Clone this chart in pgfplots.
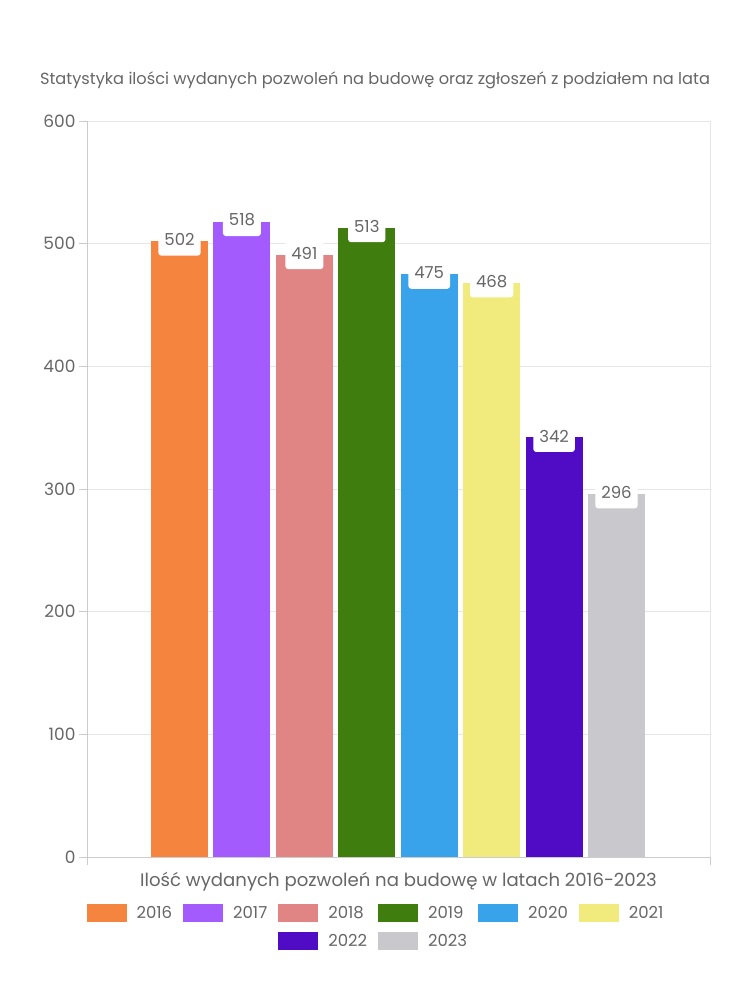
\documentclass[border=0pt]{standalone}
\usepackage{pgfplots}
\pgfplotsset{compat=1.18}
\usepackage{fontspec}
\setmainfont{Poppins}
\definecolor{c2016}{HTML}{F5843F}
\definecolor{c2017}{HTML}{A35BFD}
\definecolor{c2018}{HTML}{E08584}
\definecolor{c2019}{HTML}{3E7D0E}
\definecolor{c2020}{HTML}{38A3EA}
\definecolor{c2021}{HTML}{F0EB7C}
\definecolor{c2022}{HTML}{500BC5}
\definecolor{c2023}{HTML}{C9C9CD}
\definecolor{txt}{HTML}{666666}
\definecolor{gridc}{HTML}{E6E6E6}
\definecolor{axisc}{HTML}{CCCCCC}
\pgfplotsset{
  legsw/.style={legend image code/.code={\fill[#1] (0pt,-9pt) rectangle (40pt,9pt);}},
  mybar/.style={ybar, bar width=57pt, bar shift=0pt, fill=#1, draw=none, legsw=#1,
    nodes near coords, nodes near coords align={center},
    every node near coord/.append style={fill=white, rounded corners=3pt, text=txt,
      font=\fontsize{16.5}{16.5}\selectfont, inner xsep=6pt, inner ysep=0pt, minimum height=32pt, anchor=center, yshift=1.5pt}},
}
\begin{document}
\begin{tikzpicture}[x=1pt,y=1pt]
\useasboundingbox (0pt,0pt) rectangle (750pt,1000pt);
\node[font=\fontsize{16.2}{18}\selectfont, text=txt, anchor=base] at (375pt,915pt) {Statystyka ilości wydanych pozwoleń na budowę oraz zgłoszeń z podziałem na lata};
\begin{axis}[at={(87pt,143pt)}, anchor=south west, scale only axis, width=623pt, height=736pt,
  xmin=-0.482, xmax=9.498, ymin=0, ymax=600,
  ytick={0,100,...,600}, xtick={-0.482,9.498}, xticklabels={},
  xmajorgrids, ymajorgrids, grid style={color=gridc, line width=0.8pt},
  tick align=outside, major tick length=8pt, tick style={color=axisc, line width=0.8pt},
  axis x line*=bottom, axis y line*=left, axis line style={color=axisc, line width=0.8pt, -},
  yticklabel style={font=\fontsize{17}{17}\selectfont, text=txt},
  /pgf/number format/assume math mode=true,
  xlabel={Ilość wydanych pozwoleń na budowę w latach 2016-2023},
  xlabel style={at={(axis description cs:0.5,0)}, anchor=base, yshift=-30pt, inner sep=0pt, font=\fontsize{18.1}{18.1}\selectfont, text=txt},
  legend columns=6, legend cell align=left,
  legend style={draw=none, fill=none, font=\fontsize{16.5}{16.5}\selectfont, text=txt,
      /tikz/every odd column/.append style={column sep=10pt},
      /tikz/every even column/.append style={column sep=11pt},
      row sep=10pt, inner sep=0pt, nodes={inner sep=0pt},
      at={(axis description cs:0.4623,-0.0639)}, anchor=north},
]
\addplot[mybar=c2016] coordinates {(1,502)}; \addlegendentry{2016}
\addplot[mybar=c2017] coordinates {(2,518)}; \addlegendentry{2017}
\addplot[mybar=c2018] coordinates {(3,491)}; \addlegendentry{2018}
\addplot[mybar=c2019] coordinates {(4,513)}; \addlegendentry{2019}
\addplot[mybar=c2020] coordinates {(5,475)}; \addlegendentry{2020}
\addplot[mybar=c2021] coordinates {(6,468)}; \addlegendentry{2021}
\addlegendimage{empty legend} \addlegendentry{}
\addlegendimage{empty legend} \addlegendentry{}
\addplot[mybar=c2022] coordinates {(7,342)}; \addlegendentry{2022}
\addplot[mybar=c2023] coordinates {(8,296)}; \addlegendentry{2023}
\end{axis}
\end{tikzpicture}
\end{document}
